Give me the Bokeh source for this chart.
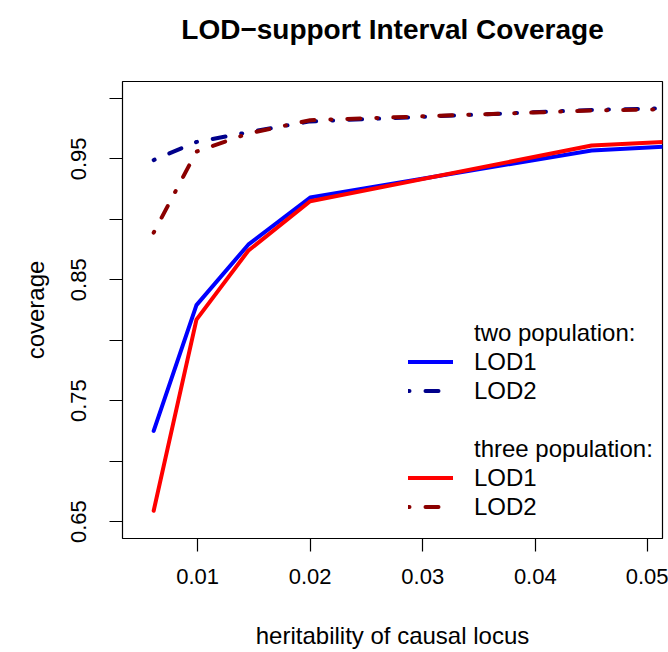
from bokeh.plotting import figure
from bokeh.models import Range1d, FixedTicker, Legend, LegendItem, Title
from bokeh.embed import file_html
from bokeh.resources import INLINE

# heritability of the causal locus (shared by all series)
heritability = [0.0061, 0.0099, 0.0145, 0.0200, 0.0450, 0.0515]

# coverage of the LOD-support intervals
two_pop_lod1 = [0.725, 0.829, 0.879, 0.918, 0.957, 0.960]
two_pop_lod2 = [0.949, 0.964, 0.972, 0.981, 0.9905, 0.9918]
three_pop_lod1 = [0.659, 0.817, 0.874, 0.915, 0.961, 0.964]
three_pop_lod2 = [0.889, 0.956, 0.971, 0.982, 0.990, 0.991]

x_ticks = [0.01, 0.02, 0.03, 0.04, 0.05]
x_tick_labels = ["0.01", "0.02", "0.03", "0.04", "0.05"]
y_ticks = [0.65, 0.70, 0.75, 0.80, 0.85, 0.90, 0.95, 1.00]
y_tick_labels = ["0.65", "", "0.75", "", "0.85", "", "0.95", ""]

FONT = "Liberation Sans"

p = figure(
    width=668, height=652,
    output_backend="svg", toolbar_location=None,
    x_range=Range1d(0.00333, 0.0513),
    y_range=Range1d(0.636, 1.014),
    min_border_left=122, min_border_right=6,
    min_border_top=81, min_border_bottom=114,
)
p.grid.visible = False
p.background_fill_color = "white"
p.border_fill_color = "white"
p.outline_line_color = "black"
p.outline_line_width = 1.2

p.title.text = ""

# blank strip that keeps the heading clear of the plot box
p.add_layout(Title(text=" ", text_font_size="1px", standoff=24), "above")
p.add_layout(Title(
    text="LOD\u2212support Interval Coverage",
    align="center", text_font=FONT, text_font_size="28px",
    text_font_style="bold", text_color="black", standoff=20,
), "above")

for ax in (p.xaxis[0], p.yaxis[0]):
    ax.axis_line_color = None
    ax.major_tick_in = 0
    ax.major_tick_out = 13
    ax.major_tick_line_color = "black"
    ax.major_tick_line_width = 1.2
    ax.minor_tick_line_color = None
    ax.major_label_text_font = FONT
    ax.major_label_text_font_size = "22px"
    ax.major_label_text_color = "black"
    ax.axis_label_text_font = FONT
    ax.axis_label_text_font_size = "24px"
    ax.axis_label_text_font_style = "normal"
    ax.axis_label_text_color = "black"

p.xaxis.ticker = FixedTicker(ticks=x_ticks)
p.xaxis.major_label_overrides = dict(zip(x_ticks, x_tick_labels))
p.xaxis.major_label_standoff = 17
p.xaxis.axis_label = "heritability of causal locus"
p.xaxis.axis_label_standoff = 35

p.yaxis.ticker = FixedTicker(ticks=y_ticks)
p.yaxis.major_label_overrides = dict(zip(y_ticks, y_tick_labels))
p.yaxis.major_label_orientation = "vertical"
p.yaxis.major_label_standoff = 23
p.yaxis.axis_label = "coverage"
p.yaxis.axis_label_standoff = 20

DOTDASH = "1 16 13 16"
common = dict(line_width=4, line_cap="round", line_join="round")

r_two1 = p.line(heritability, two_pop_lod1, line_color="#0000FF", **common)
r_two2 = p.line(heritability, two_pop_lod2, line_color="#00008B", line_dash=DOTDASH, **common)
r_three1 = p.line(heritability, three_pop_lod1, line_color="#FF0000", **common)
r_three2 = p.line(heritability, three_pop_lod2, line_color="#8B0000", line_dash=DOTDASH, **common)

# invisible renderer used for the legend's heading and spacer rows
blank = p.line(x=[], y=[], line_alpha=0)

legend = Legend(
    items=[
        LegendItem(label="two population:", renderers=[blank]),
        LegendItem(label="LOD1", renderers=[r_two1]),
        LegendItem(label="LOD2", renderers=[r_two2]),
        LegendItem(label=" ", renderers=[blank]),
        LegendItem(label="three population:", renderers=[blank]),
        LegendItem(label="LOD1", renderers=[r_three1]),
        LegendItem(label="LOD2", renderers=[r_three2]),
    ],
    location=(286, 17),
    orientation="vertical",
    glyph_width=45, glyph_height=29, label_height=29,
    spacing=0, label_standoff=21, padding=0, margin=0,
    border_line_color=None, background_fill_alpha=0,
    label_text_font=FONT, label_text_font_size="24px",
    label_text_color="black",
)
p.add_layout(legend)

open("out.html", "w").write(file_html(p, INLINE))
